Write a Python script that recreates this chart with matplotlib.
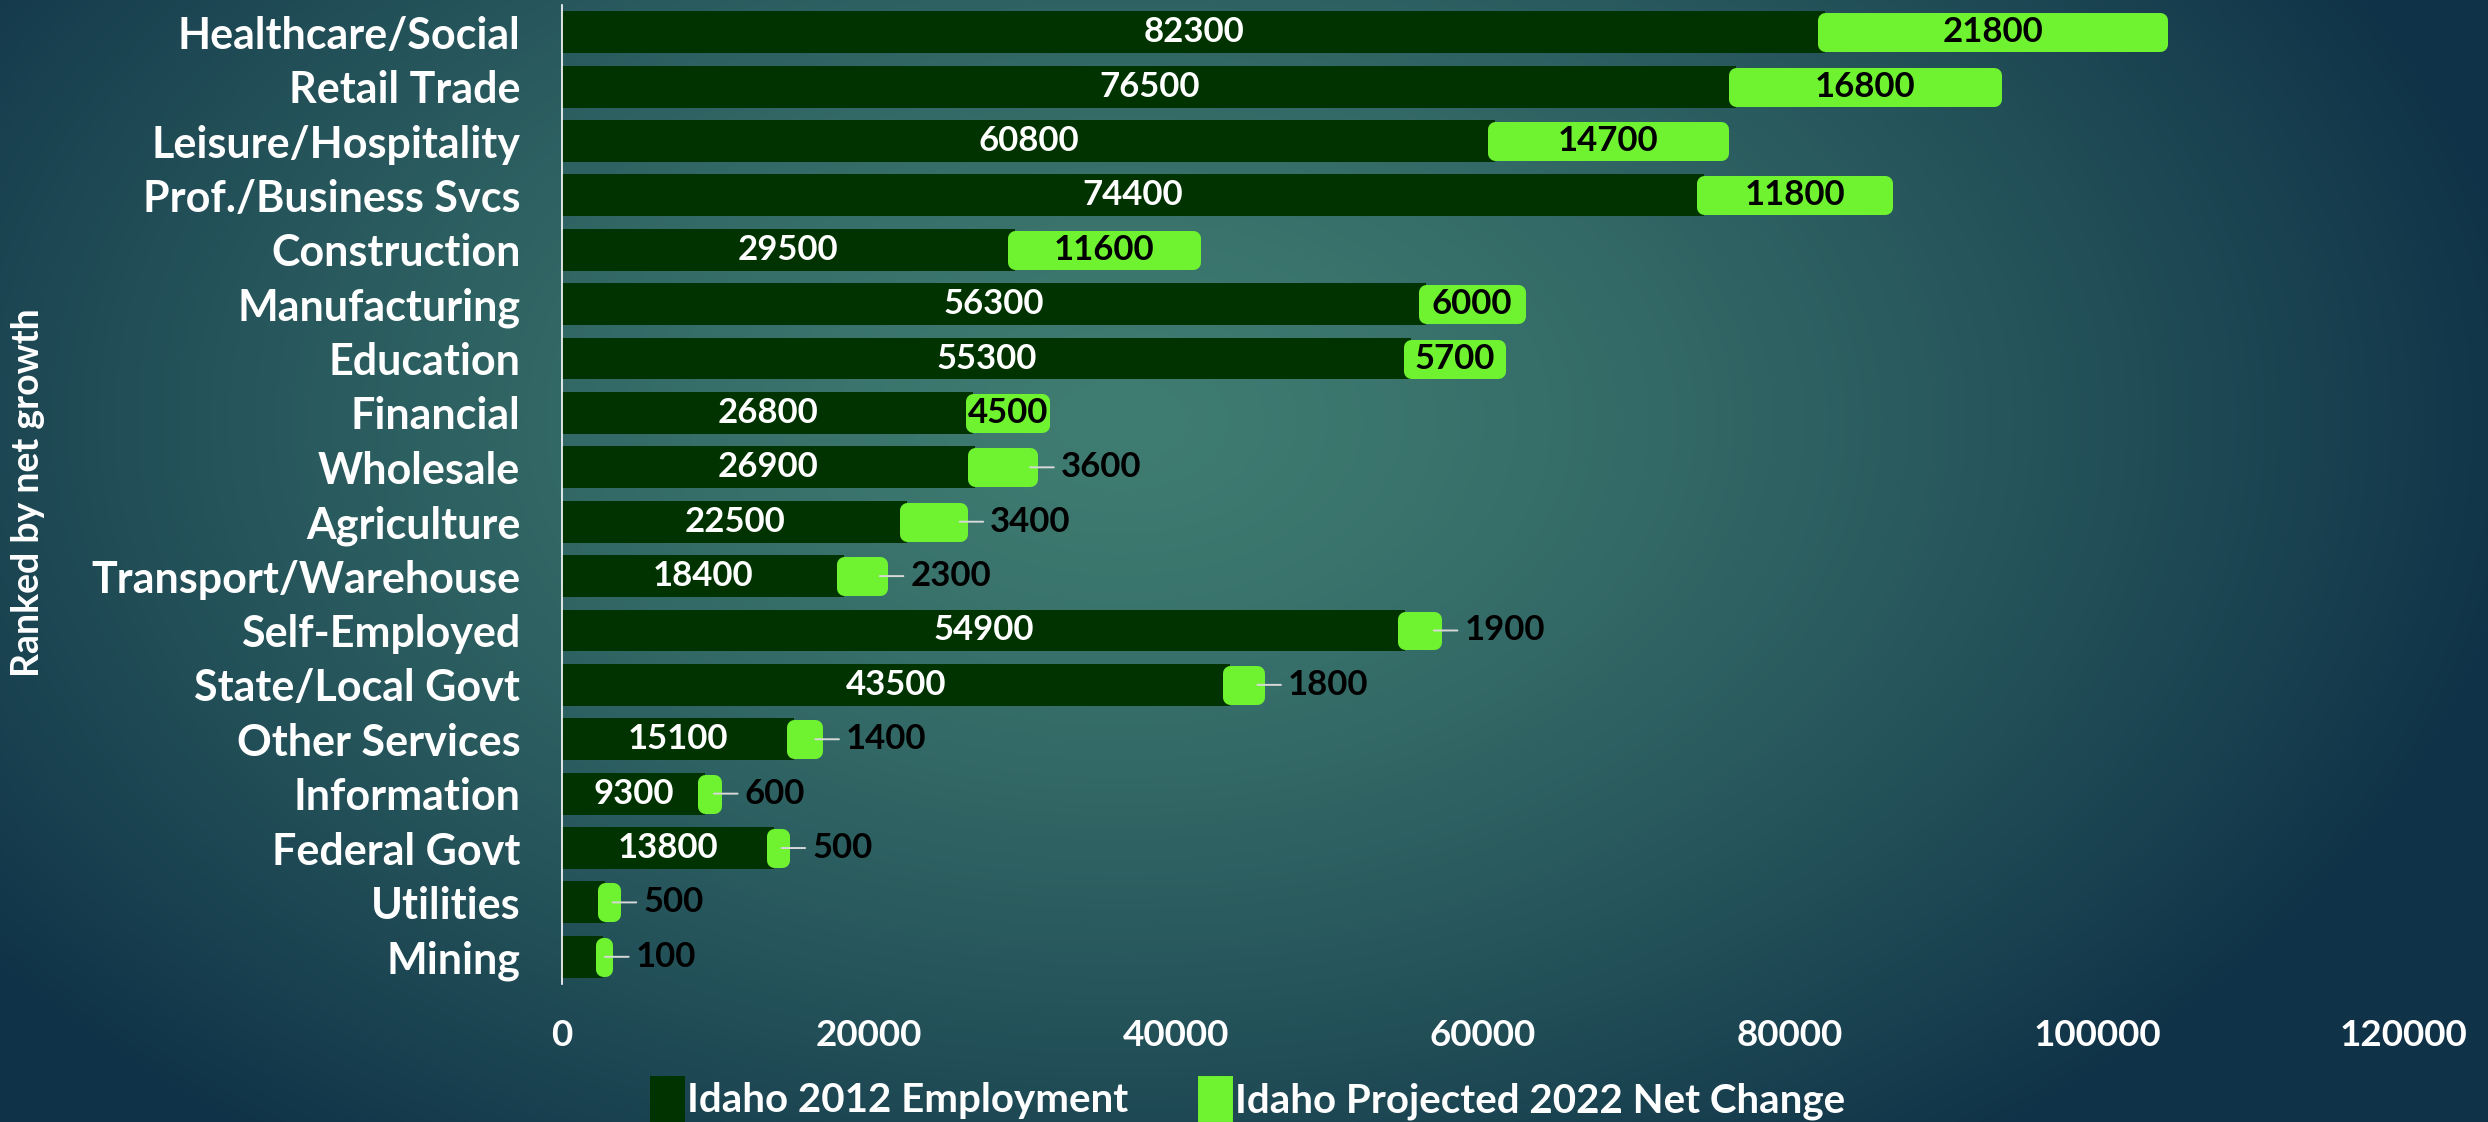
import numpy as np
import matplotlib.pyplot as plt
from matplotlib.patches import Patch

plt.rcParams['font.family'] = ['Lato', 'DejaVu Sans']
plt.rcParams['font.weight'] = 'bold'

# Idaho employment by industry, ranked by projected net growth
categories = ['Healthcare/Social', 'Retail Trade', 'Leisure/Hospitality',
              'Prof./Business Svcs', 'Construction', 'Manufacturing',
              'Education', 'Financial', 'Wholesale', 'Agriculture',
              'Transport/Warehouse', 'Self-Employed', 'State/Local Govt',
              'Other Services', 'Information', 'Federal Govt', 'Utilities',
              'Mining']
emp_2012 = [82300, 76500, 60800, 74400, 29500, 56300, 55300, 26800, 26900,
            22500, 18400, 54900, 43500, 15100, 9300, 13800, 2800, 2700]
net_change = [21800, 16800, 14700, 11800, 11600, 6000, 5700, 4500, 3600,
              3400, 2300, 1900, 1800, 1400, 600, 500, 500, 100]
x_ticks = [0, 20000, 40000, 60000, 80000, 100000, 120000]

DARK = '#003300'
LIGHT = '#6ff230'

fig = plt.figure(figsize=(24.88, 11.22), dpi=100)

# radial teal background
bg = fig.add_axes([0, 0, 1, 1], zorder=-1)
bg.axis('off')
h, w = 561, 1244
yy, xx = np.mgrid[0:h, 0:w]
r = np.sqrt(((xx - 560) / 700.0) ** 2 + ((yy - 210) / 450.0) ** 2)
t = np.clip(r, 0, 1) ** 1.4
inner = np.array([0x3f, 0x7c, 0x71]) / 255
outer = np.array([0x10, 0x33, 0x48]) / 255
img = inner * (1 - t[..., None]) + outer * t[..., None]
bg.imshow(img, extent=[0, 1, 0, 1], aspect='auto', origin='upper')
bg.set_xlim(0, 1)
bg.set_ylim(0, 1)

ax = fig.add_axes([0.2259, 0.123, 0.7403, 0.8725])
ax.patch.set_alpha(0)

y = np.arange(len(categories))
ax.barh(y, emp_2012, height=0.77, color=DARK, zorder=2)
light = ax.barh(y, net_change, left=emp_2012, height=0.44, color=LIGHT,
                edgecolor=LIGHT, linewidth=10.8, zorder=3)
for p in light:
    p.set_joinstyle('round')

for i, (e, c) in enumerate(zip(emp_2012, net_change)):
    if e >= 5000:
        ax.text(e / 2, i, str(e), ha='center', va='center', color='white',
                fontsize=25, fontweight='bold', zorder=4)
    if c >= 4000:
        ax.text(e + c / 2, i, str(c), ha='center', va='center', color='black',
                fontsize=25, fontweight='bold', zorder=4)
    else:
        ax.annotate(str(c), xy=(e + c, i), xytext=(22, 0),
                    textcoords='offset points', ha='left', va='center',
                    color='black', fontsize=25, fontweight='bold', zorder=4,
                    arrowprops=dict(arrowstyle='-', color='#d8d8d8', lw=1.4,
                                    shrinkA=3, shrinkB=0))

ax.set_xlim(0, 120000)
ax.set_ylim(17.5, -0.5)
ax.set_xticks(x_ticks)
ax.set_xticklabels([str(v) for v in x_ticks])
ax.set_yticks(y)
ax.set_yticklabels(categories)
ax.tick_params(axis='x', length=0, pad=25, labelsize=26.5, labelcolor='white')
ax.tick_params(axis='y', length=0, pad=30, labelsize=31, labelcolor='white')
for s in ['top', 'right', 'bottom']:
    ax.spines[s].set_visible(False)
ax.spines['left'].set_color('white')
ax.spines['left'].set_linewidth(1.2)

fig.text(0.0113, 0.561, 'Ranked by net growth', rotation=90, ha='center',
         va='center', color='white', fontsize=27, fontweight='bold')

handles = [Patch(facecolor=DARK, edgecolor=DARK, linewidth=5, joinstyle='round'),
           Patch(facecolor=LIGHT, edgecolor=LIGHT, linewidth=5, joinstyle='round')]
leg = fig.legend(handles, ['Idaho 2012 Employment', 'Idaho Projected 2022 Net Change'],
                 loc='center', bbox_to_anchor=(0.502, 0.02), ncol=2, frameon=False,
                 fontsize=29, labelcolor='white', handlelength=0.7,
                 handleheight=1.1, handletextpad=0.15, columnspacing=1.8)

fig.savefig('out.png', dpi=100)
